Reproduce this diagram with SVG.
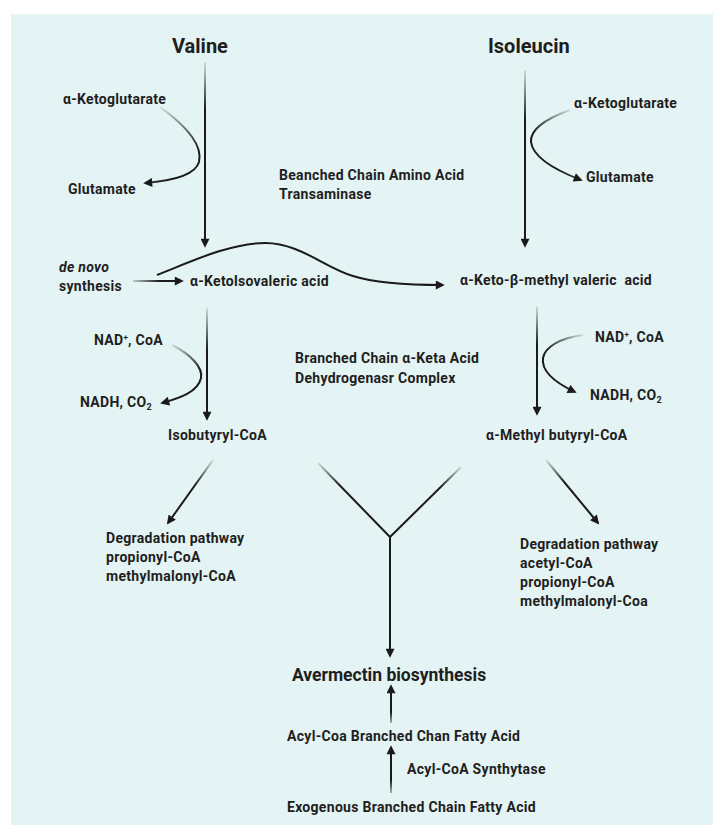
<svg xmlns="http://www.w3.org/2000/svg" width="713" height="825" viewBox="0 0 713 825">
<style>
text{font-family:Roboto,"Liberation Sans",sans-serif;font-weight:700;fill:#1e1e1e;font-size:14px;letter-spacing:0.3px}
.big{font-size:20px;letter-spacing:0}
.mid{font-size:17.5px;letter-spacing:0}
.ln{fill:none;stroke:#1a1a1a;stroke-width:2}
.ar{marker-end:url(#ah)}
</style>
<defs>
<marker id="ah" viewBox="0 0 10 10" refX="8" refY="5" markerWidth="10" markerHeight="9" orient="auto" markerUnits="userSpaceOnUse">
<path d="M0,0 L10,5 L0,10 Z" fill="#1a1a1a"/>
</marker>
<linearGradient id="gV1" gradientUnits="userSpaceOnUse" x1="0" y1="62" x2="0" y2="110"><stop offset="0" stop-color="#1a1a1a" stop-opacity="0.1"/><stop offset="1" stop-color="#1a1a1a"/></linearGradient>
<linearGradient id="gI1" gradientUnits="userSpaceOnUse" x1="0" y1="70" x2="0" y2="120"><stop offset="0" stop-color="#1a1a1a" stop-opacity="0.1"/><stop offset="1" stop-color="#1a1a1a"/></linearGradient>
<linearGradient id="gV2" gradientUnits="userSpaceOnUse" x1="0" y1="308" x2="0" y2="350"><stop offset="0" stop-color="#1a1a1a" stop-opacity="0.1"/><stop offset="1" stop-color="#1a1a1a"/></linearGradient>
<linearGradient id="gI2" gradientUnits="userSpaceOnUse" x1="0" y1="306" x2="0" y2="345"><stop offset="0" stop-color="#1a1a1a" stop-opacity="0.1"/><stop offset="1" stop-color="#1a1a1a"/></linearGradient>
<linearGradient id="gKL" gradientUnits="userSpaceOnUse" x1="160" y1="107" x2="200" y2="150"><stop offset="0" stop-color="#1a1a1a" stop-opacity="0.1"/><stop offset="1" stop-color="#1a1a1a"/></linearGradient>
<linearGradient id="gKR" gradientUnits="userSpaceOnUse" x1="570" y1="110" x2="535" y2="135"><stop offset="0" stop-color="#1a1a1a" stop-opacity="0.1"/><stop offset="1" stop-color="#1a1a1a"/></linearGradient>
<linearGradient id="gNL" gradientUnits="userSpaceOnUse" x1="172" y1="345" x2="200" y2="370"><stop offset="0" stop-color="#1a1a1a" stop-opacity="0.1"/><stop offset="1" stop-color="#1a1a1a"/></linearGradient>
<linearGradient id="gNR" gradientUnits="userSpaceOnUse" x1="583" y1="335" x2="548" y2="352"><stop offset="0" stop-color="#1a1a1a" stop-opacity="0.1"/><stop offset="1" stop-color="#1a1a1a"/></linearGradient>
<linearGradient id="gDN" gradientUnits="userSpaceOnUse" x1="133" y1="0" x2="160" y2="0"><stop offset="0" stop-color="#1a1a1a" stop-opacity="0.2"/><stop offset="1" stop-color="#1a1a1a"/></linearGradient>
<linearGradient id="gDL" gradientUnits="userSpaceOnUse" x1="213" y1="460" x2="195" y2="485"><stop offset="0" stop-color="#1a1a1a" stop-opacity="0.1"/><stop offset="1" stop-color="#1a1a1a"/></linearGradient>
<linearGradient id="gDR" gradientUnits="userSpaceOnUse" x1="546" y1="460" x2="565" y2="482"><stop offset="0" stop-color="#1a1a1a" stop-opacity="0.1"/><stop offset="1" stop-color="#1a1a1a"/></linearGradient>
<linearGradient id="gYL" gradientUnits="userSpaceOnUse" x1="318" y1="463" x2="340" y2="485"><stop offset="0" stop-color="#1a1a1a" stop-opacity="0.1"/><stop offset="1" stop-color="#1a1a1a"/></linearGradient>
<linearGradient id="gYR" gradientUnits="userSpaceOnUse" x1="461" y1="467" x2="440" y2="487"><stop offset="0" stop-color="#1a1a1a" stop-opacity="0.1"/><stop offset="1" stop-color="#1a1a1a"/></linearGradient>
<linearGradient id="gA1" gradientUnits="userSpaceOnUse" x1="0" y1="723" x2="0" y2="712"><stop offset="0" stop-color="#1a1a1a" stop-opacity="0.3"/><stop offset="1" stop-color="#1a1a1a"/></linearGradient>
<linearGradient id="gA2" gradientUnits="userSpaceOnUse" x1="0" y1="793" x2="0" y2="780"><stop offset="0" stop-color="#1a1a1a" stop-opacity="0.3"/><stop offset="1" stop-color="#1a1a1a"/></linearGradient>
</defs>
<rect x="11" y="14" width="702" height="811" fill="#e4f3f3"/>

<g id="connectors">
<path class="ln ar" style="stroke:url(#gV1)" d="M205,62 L205.01,246"/>
<path class="ln ar" style="stroke:url(#gI1)" d="M525,70 L525.01,246"/>
<path class="ln ar" style="stroke:url(#gKL)" d="M160,107 C185,125 203,145 199,162 C195,176 170,181 145,183"/>
<path class="ln ar" style="stroke:url(#gKR)" d="M570,110 C548,118 530,128 531,142 C533,158 555,170 581,180"/>
<path class="ln ar" style="stroke:url(#gDN)" d="M133,281 L182,281.01"/>
<path class="ln ar" d="M157,275 C190,262 230,243 265,243 C300,243 325,268 353,276 C375,283 410,285 443,285"/>
<path class="ln ar" style="stroke:url(#gV2)" d="M207,308 L207.01,419"/>
<path class="ln ar" style="stroke:url(#gNL)" d="M172,345 C192,355 203,368 201,378 C198,392 180,398 162,403"/>
<path class="ln ar" style="stroke:url(#gI2)" d="M537,306 L537.01,414"/>
<path class="ln ar" style="stroke:url(#gNR)" d="M583,335 C560,338 545,347 543,358 C541,372 558,384 575,392"/>
<path class="ln ar" style="stroke:url(#gDL)" d="M213,460 L168,523"/>
<path class="ln ar" style="stroke:url(#gDR)" d="M546,460 L598,523"/>
<path class="ln" style="stroke:url(#gYL)" d="M318,463 L390,537"/>
<path class="ln" style="stroke:url(#gYR)" d="M461,467 L390,537"/>
<path class="ln ar" d="M390,537 L390.01,656"/>
<path class="ln ar" style="stroke:url(#gA1)" d="M391,723 L391.01,686"/>
<path class="ln ar" style="stroke:url(#gA2)" d="M391,793 L391.01,747"/>
</g>

<g id="valine"><text class="big" x="172" y="53">Valine</text></g>
<g id="isoleucin"><text class="big" x="488" y="53">Isoleucin</text></g>
<g id="akg-left"><text x="63" y="104">α-Ketoglutarate</text></g>
<g id="glu-left"><text x="68" y="194">Glutamate</text></g>
<g id="akg-right"><text x="574" y="108">α-Ketoglutarate</text></g>
<g id="glu-right"><text x="586" y="182">Glutamate</text></g>
<g id="bcat"><text x="279" y="180">Beanched Chain Amino Acid</text><text x="279" y="199">Transaminase</text></g>
<g id="denovo"><text x="59" y="272" font-style="italic">de novo</text><text x="59" y="291">synthesis</text></g>
<g id="kiv"><text x="190" y="286">α-Ketolsovaleric acid</text></g>
<g id="kmv"><text x="460" y="285" xml:space="preserve">α-Keto-β-methyl valeric  acid</text></g>
<g id="nad-left"><text x="94" y="345">NAD<tspan font-size="8" dy="-5">+</tspan><tspan dy="5">, CoA</tspan></text></g>
<g id="nadh-left"><text x="80" y="407">NADH, CO<tspan font-size="9" dy="3">2</tspan></text></g>
<g id="bckdh"><text x="295" y="363">Branched Chain α-Keta Acid</text><text x="295" y="383">Dehydrogenasr Complex</text></g>
<g id="nad-right"><text x="595" y="342">NAD<tspan font-size="8" dy="-5">+</tspan><tspan dy="5">, CoA</tspan></text></g>
<g id="nadh-right"><text x="590" y="400">NADH, CO<tspan font-size="9" dy="3">2</tspan></text></g>
<g id="isobutyryl"><text x="168" y="440">Isobutyryl-CoA</text></g>
<g id="methylbutyryl"><text x="486" y="440">α-Methyl butyryl-CoA</text></g>
<g id="deg-left"><text x="106" y="543">Degradation pathway</text><text x="106" y="562">propionyl-CoA</text><text x="106" y="581">methylmalonyl-CoA</text></g>
<g id="deg-right"><text x="520" y="549">Degradation pathway</text><text x="520" y="568">acetyl-CoA</text><text x="520" y="587">propionyl-CoA</text><text x="520" y="606">methylmalonyl-Coa</text></g>
<g id="avermectin"><text class="mid" x="292" y="681">Avermectin biosynthesis</text></g>
<g id="acylcoa"><text x="287" y="741">Acyl-Coa Branched Chan Fatty Acid</text></g>
<g id="synthetase"><text x="407" y="774">Acyl-CoA Synthytase</text></g>
<g id="exogenous"><text x="287" y="812">Exogenous Branched Chain Fatty Acid</text></g>
</svg>
